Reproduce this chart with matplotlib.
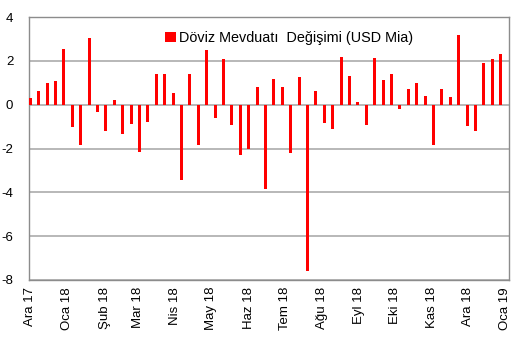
import matplotlib
matplotlib.use('Agg')
import matplotlib.pyplot as plt
import matplotlib.dates as mdates
import pandas as pd

plt.rcParams['font.family'] = ['Liberation Sans', 'DejaVu Sans']
plt.rcParams['axes.unicode_minus'] = False

# Weekly FX deposit change (USD bn), Friday observations
weeks = pd.date_range('2017-12-01', periods=57, freq='W-FRI')
fx_change = [0.30, 0.61, 0.97, 1.08, 2.55, -1.02, -1.86, 3.02, -0.34, -1.19,
             0.23, -1.34, -0.87, -2.18, -0.78, 1.39, 1.39, 0.55, -3.43, 1.39,
             -1.86, 2.50, -0.61, 2.09, -0.93, -2.29, -2.00, 0.81, -3.86, 1.18,
             0.81, -2.20, 1.28, -7.60, 0.61, -0.84, -1.13, 2.18, 1.30, 0.12,
             -0.93, 2.12, 1.13, 1.39, -0.18, 0.72, 0.97, 0.40, -1.83, 0.72,
             0.33, 3.18, -0.99, -1.20, 1.92, 2.09, 2.29]

month_names = ['Oca', 'Şub', 'Mar', 'Nis', 'May', 'Haz',
               'Tem', 'Ağu', 'Eyl', 'Eki', 'Kas', 'Ara']

fig = plt.figure(figsize=(5.31, 3.48), dpi=100)
ax = fig.add_axes([28.5 / 531, 1 - 280 / 348, (509 - 28.5) / 531, (280 - 17) / 348])

ax.bar(weeks, fx_change, width=2.5, color='#ff0000', zorder=3,
       label='Döviz Mevduatı  Değişimi (USD Mia)')

ax.set_ylim(-8, 4)
ax.set_yticks(range(-8, 5, 2))
ax.yaxis.grid(True, color='#b8b8b8', linewidth=1.4, zorder=0)
ax.set_xlim(pd.Timestamp('2017-11-29 12:00'), pd.Timestamp('2019-01-04'))

ax.xaxis.set_major_locator(mdates.MonthLocator())
ax.xaxis.set_major_formatter(
    plt.FuncFormatter(lambda v, pos: '%s %02d' % (month_names[mdates.num2date(v).month - 1],
                                                 mdates.num2date(v).year % 100)))
plt.setp(ax.get_xticklabels(), rotation=90)

ax.tick_params(axis='both', length=0, labelsize=9.5, colors='black')
ax.tick_params(axis='y', pad=11)
ax.tick_params(axis='x', pad=5)
for s in ax.spines.values():
    s.set_color('#8c8c8c')
    s.set_linewidth(1)

ax.legend(loc='upper center', bbox_to_anchor=(0.542, 0.995), frameon=False,
          fontsize=10.4, handlelength=0.72, handleheight=0.72, handletextpad=0.2)

fig.savefig('out.png', dpi=100)
